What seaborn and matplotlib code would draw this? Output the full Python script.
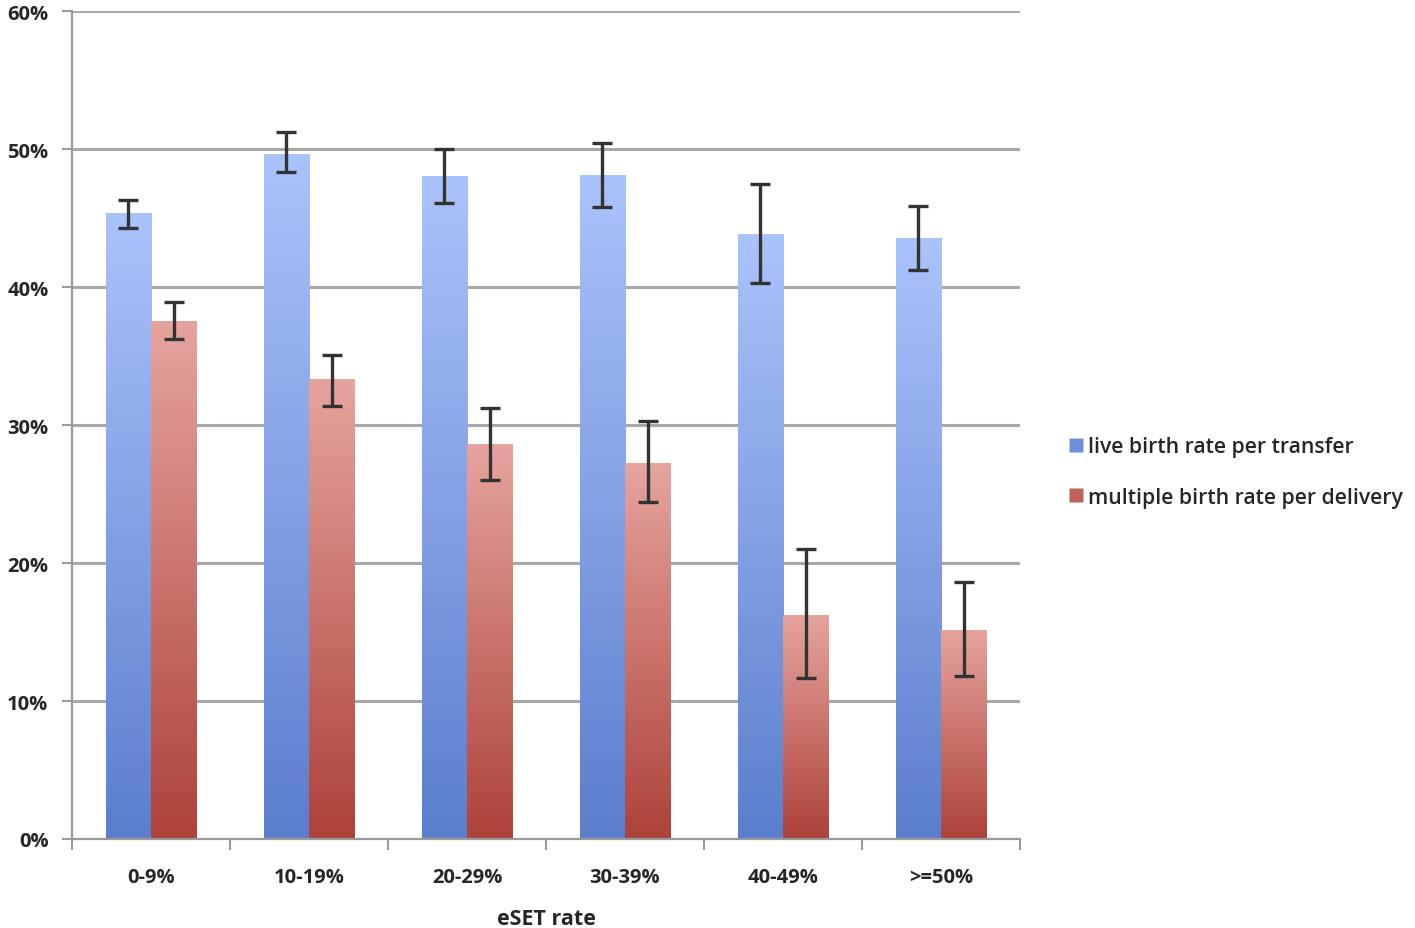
import numpy as np
import pandas as pd
import matplotlib
matplotlib.use('Agg')
import matplotlib.pyplot as plt
import seaborn as sns
from matplotlib.colors import LinearSegmentedColormap
from matplotlib.lines import Line2D
from matplotlib.ticker import FuncFormatter, MultipleLocator

# -------------------------------
# Data
# -------------------------------
categories = ['0-9%', '10-19%', '20-29%', '30-39%', '40-49%', '>=50%']
series = ['live birth rate per transfer', 'multiple birth rate per delivery']

live_birth = [45.3, 49.6, 48.0, 48.1, 43.8, 43.5]
live_low = [44.3, 48.3, 46.1, 45.8, 40.3, 41.2]
live_high = [46.3, 51.2, 50.0, 50.4, 47.5, 45.9]

multiple_birth = [37.5, 33.3, 28.6, 27.2, 16.2, 15.1]
multiple_low = [36.2, 31.4, 26.0, 24.4, 11.7, 11.8]
multiple_high = [38.9, 35.1, 31.2, 30.3, 21.0, 18.6]

df = pd.DataFrame({
    'eset': categories * 2,
    'series': [series[0]] * 6 + [series[1]] * 6,
    'rate': live_birth + multiple_birth,
    'low': live_low + multiple_low,
    'high': live_high + multiple_high,
})

# gradient ends: (top, bottom)
grad = {
    series[0]: ('#abc3fb', '#5b7ecd'),
    series[1]: ('#e6a49e', '#ad423a'),
}
legend_col = {series[0]: '#6f8fdc', series[1]: '#c0615a'}

sns.set_style('white')
plt.rcParams['font.family'] = ['Open Sans', 'DejaVu Sans']

fig = plt.figure(figsize=(14.15, 9.29), dpi=100)
ax = fig.add_axes([72 / 1415, 1 - 840 / 929, (1020 - 72) / 1415, (840 - 12) / 929])

sns.barplot(data=df, x='eset', y='rate', hue='series', order=categories,
            hue_order=series, errorbar=None, width=0.57, ax=ax,
            palette=[legend_col[s] for s in series], legend=False)

# replace flat fill with vertical gradient per bar, then error bars
for patch, (_, row) in zip(ax.patches, df.iterrows()):
    x0, w, h = patch.get_x(), patch.get_width(), patch.get_height()
    top, bot = grad[row['series']]
    cmap = LinearSegmentedColormap.from_list('g', [bot, top])
    img = np.linspace(0, 1, 256).reshape(-1, 1)
    ax.imshow(img, cmap=cmap, aspect='auto', origin='lower',
              extent=[x0, x0 + w, 0, h], zorder=2)
    patch.set_visible(False)
    xc = x0 + w / 2
    ax.errorbar(xc, row['rate'],
                yerr=[[row['rate'] - row['low']], [row['high'] - row['rate']]],
                fmt='none', ecolor='#333333', elinewidth=2.4, capsize=7,
                capthick=2.4, zorder=4)

ax.set_xlim(-0.5, len(categories) - 0.5)
ax.set_ylim(0, 60)
ax.yaxis.set_major_locator(MultipleLocator(10))
ax.yaxis.set_major_formatter(FuncFormatter(lambda v, p: f'{int(v)}%'))
ax.grid(axis='y', color='#a8a8a8', linewidth=2.2, zorder=0)
ax.set_axisbelow(True)

for s in ['top', 'right']:
    ax.spines[s].set_visible(False)
for s in ['left', 'bottom']:
    ax.spines[s].set_color('#9a9a9a')
    ax.spines[s].set_linewidth(1.6)

# x ticks at group boundaries, labels at centres
ax.set_xticks(np.arange(-0.5, len(categories)), minor=False)
ax.set_xticklabels([])
ax.set_xticks(np.arange(len(categories)), minor=True)
ax.set_xticklabels(categories, minor=True, fontsize=14.5, fontweight='bold')
ax.tick_params(axis='x', which='major', direction='out', length=8, width=1.5,
               color='#9a9a9a', bottom=True)
ax.tick_params(axis='x', which='minor', length=0, pad=20)
ax.tick_params(axis='y', direction='out', length=7, width=1.5, color='#9a9a9a',
               left=True, labelsize=14.5, pad=10)
for t in ax.get_yticklabels():
    t.set_fontweight('bold')

ax.set_xlabel('eSET rate', fontsize=15.5, fontweight='bold', labelpad=15)
ax.set_ylabel('')

handles = [Line2D([0], [0], marker='s', linestyle='none', markersize=10,
                  markerfacecolor=legend_col[s], markeredgecolor='none')
           for s in series]
leg = fig.legend(handles, series, loc='center left',
                 bbox_to_anchor=(1046 / 1415, 1 - 473 / 929), frameon=False,
                 fontsize=15.2, handletextpad=0.1, labelspacing=1.4,
                 handlelength=1.0)
for t in leg.get_texts():
    t.set_fontweight('semibold')

fig.savefig('out.png', dpi=100)
